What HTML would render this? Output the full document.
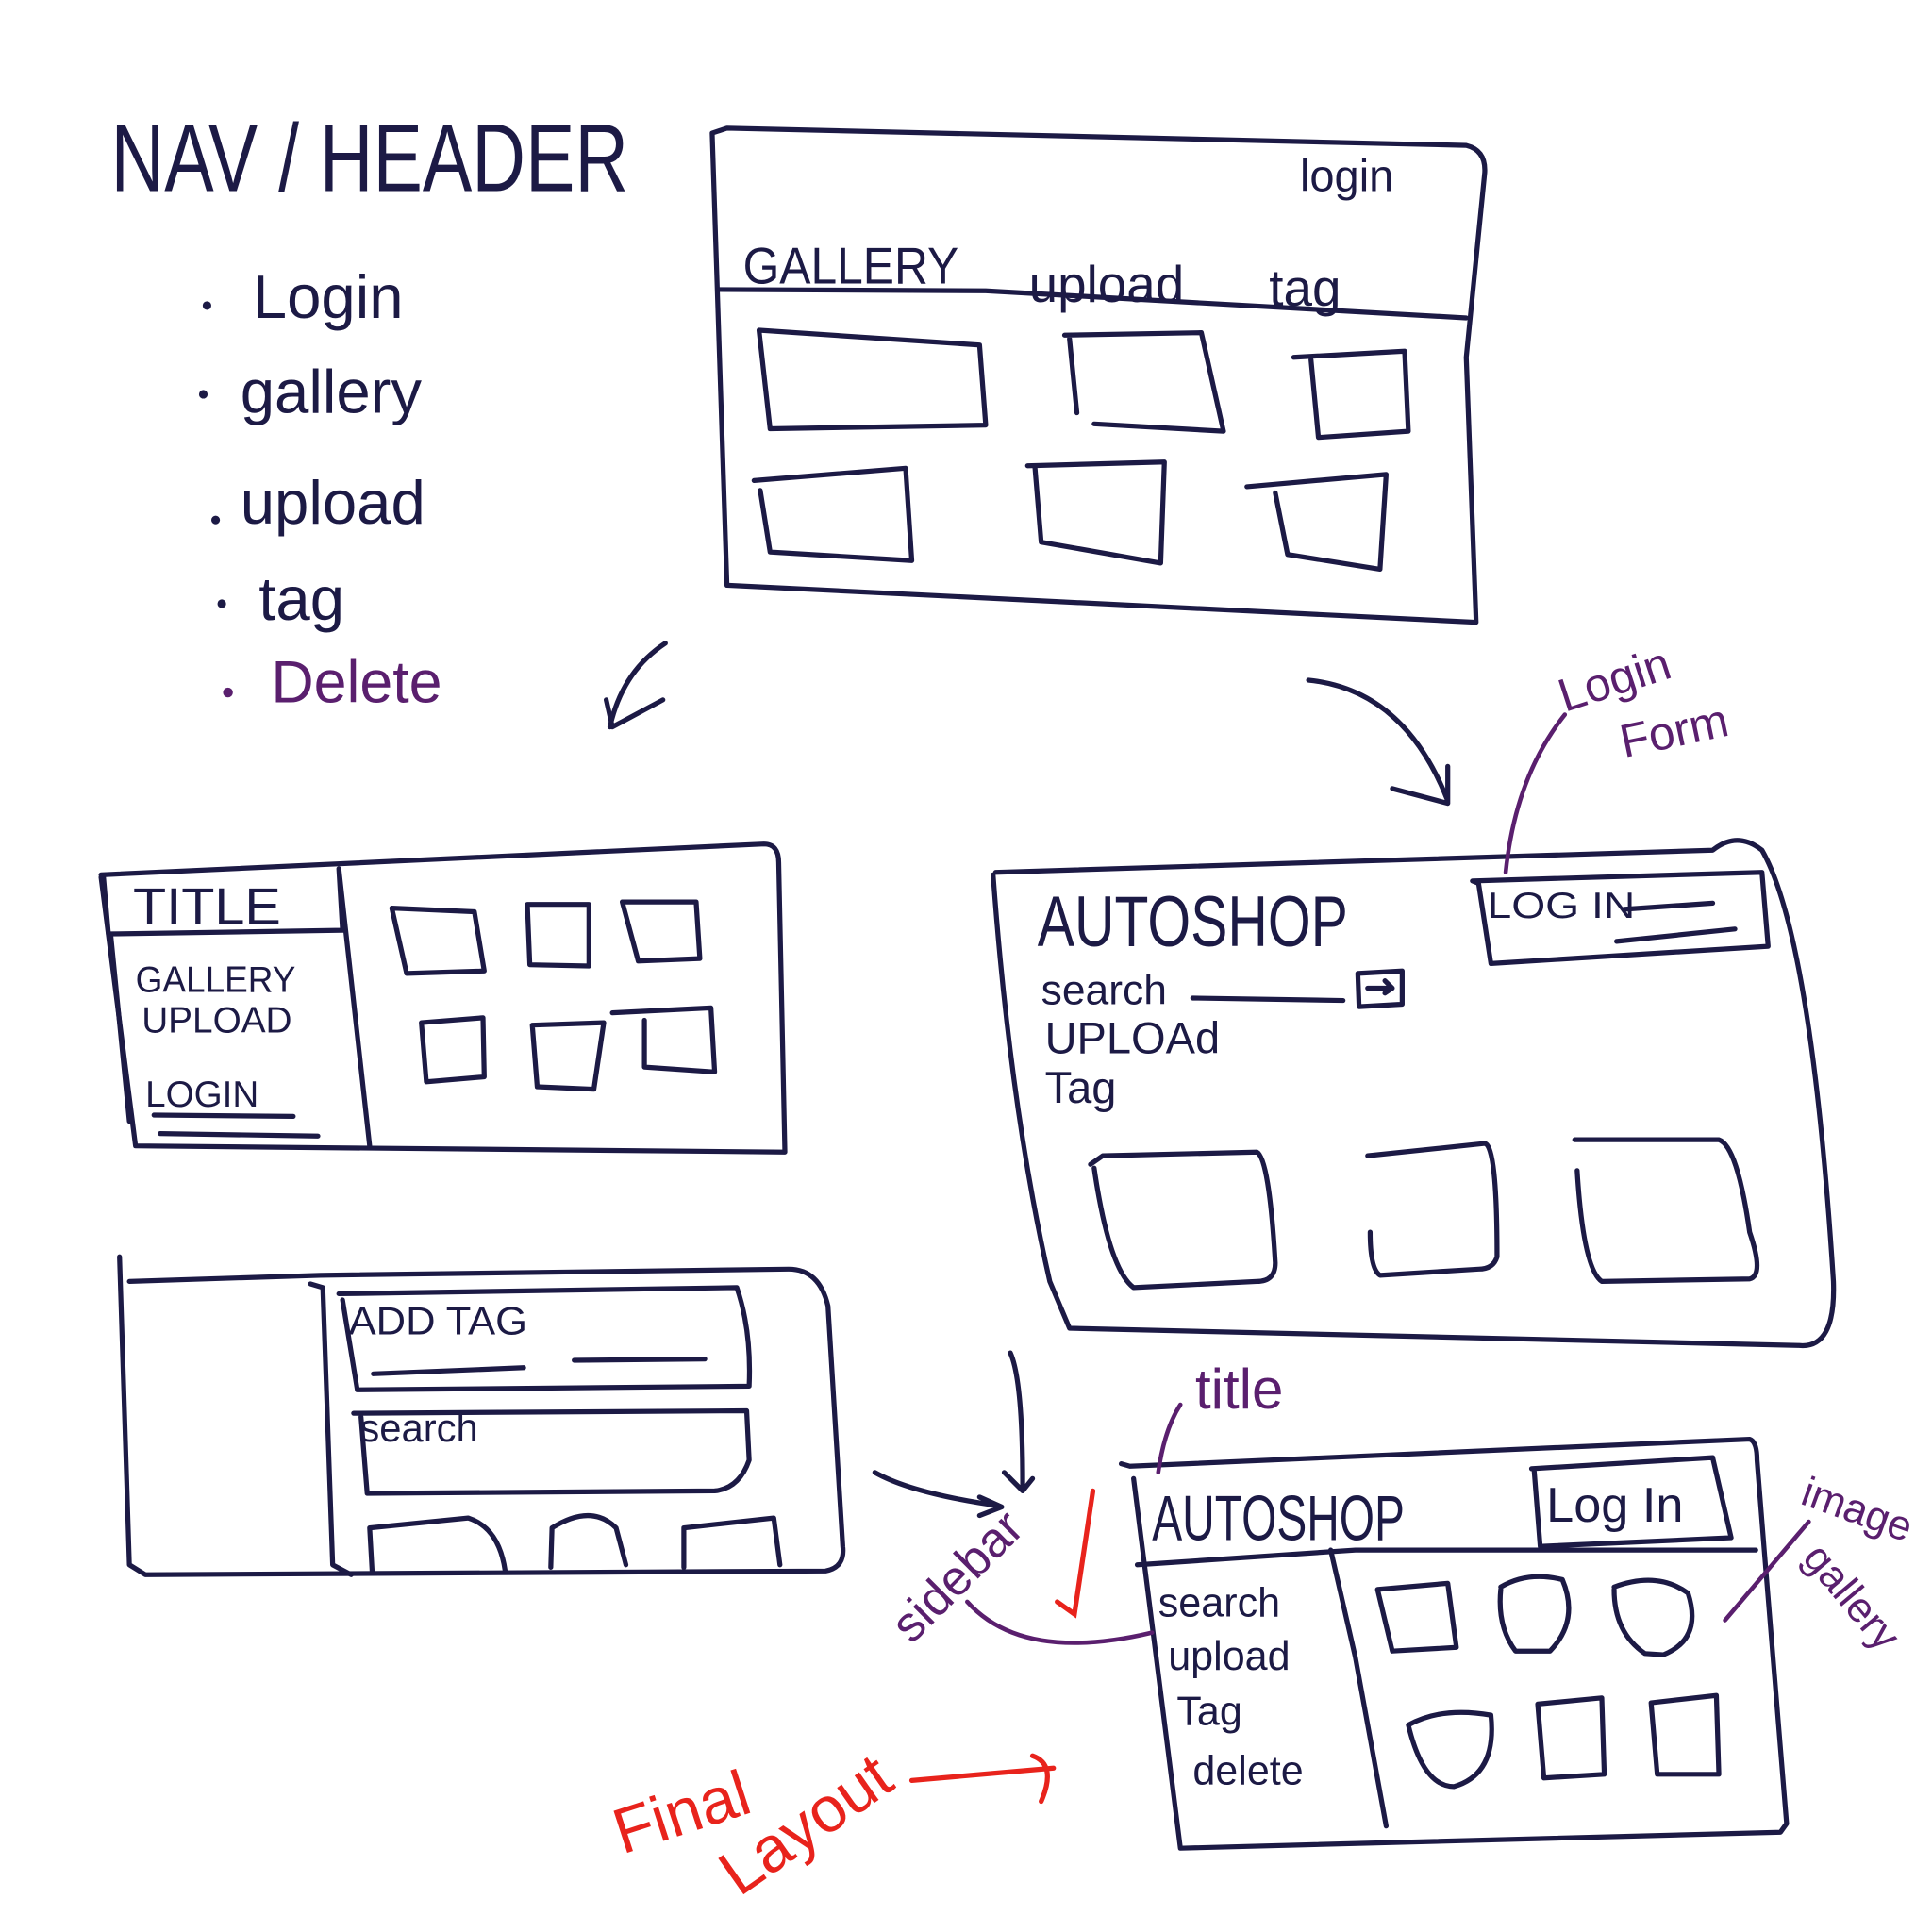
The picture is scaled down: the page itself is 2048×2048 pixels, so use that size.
<!DOCTYPE html>
<html><head><meta charset="utf-8"><style>
html,body{margin:0;padding:0;background:#fff;}
svg{display:block}
text{font-family:"Liberation Sans",sans-serif;}
</style></head><body>
<svg width="2048" height="2048" viewBox="0 0 1568 1568" xmlns="http://www.w3.org/2000/svg">
<rect width="1568" height="1568" fill="#fff"/>
<g fill="none" stroke="#1c1a45" stroke-width="4" stroke-linecap="round" stroke-linejoin="round">
<!-- top sketch -->
<path d="M578 108 L590 104 L1190 118 Q1206 122 1205 140 L1190 290 L1198 505 L590 475 Z"/>
<path d="M583 235 L800 236 L1190 258"/>
<path d="M616 268 L795 280 L800 345 L625 348 L616 268"/>
<path d="M864 272 L975 270 L993 350 L888 344 M868 275 L874 335"/>
<path d="M1050 290 L1140 285 L1143 350 L1070 355 L1064 292"/>
<path d="M612 390 L735 380 L740 455 L625 448 L617 398"/>
<path d="M834 378 L945 375 L942 457 L845 440 L840 380"/>
<path d="M1012 395 L1125 385 L1120 462 L1045 450 L1035 400"/>
<!-- left-middle sketch -->
<path d="M82 710 L620 685 Q632 685 632 700 L637 935 L110 930 L82 712"/>
<path d="M84 712 L88 758 L278 755 L275 705 L300 930"/>
<path d="M90 760 L105 910"/>
<path d="M125 905 L238 906 M130 920 L258 922"/>
<path d="M318 737 L385 740 L393 788 L330 790 Z"/>
<path d="M428 734 L478 734 L478 784 L430 783 Z"/>
<path d="M505 732 L565 732 L568 778 L518 780 Z"/>
<path d="M342 830 L392 826 L393 874 L346 878 Z"/>
<path d="M432 832 L490 830 L482 884 L436 882 Z"/>
<path d="M497 822 L577 818 L580 870 L523 866 L523 828"/>
<!-- bottom-left sketch -->
<path d="M97 1020 L105 1270 L118 1278 L670 1275 Q686 1272 684 1255 L672 1060 Q665 1030 640 1030 L260 1035 L105 1040"/>
<path d="M252 1042 L262 1045 L270 1270 L285 1278"/>
<path d="M275 1050 L598 1045 Q610 1080 608 1125 L290 1128 L278 1055"/>
<path d="M303 1115 L425 1110 M466 1104 L572 1103"/>
<path d="M287 1147 L606 1145 L608 1185 Q600 1208 580 1210 L298 1212 L293 1150"/>
<path d="M302 1275 L300 1240 L380 1232 Q405 1240 410 1275"/>
<path d="M447 1272 L448 1240 Q480 1220 500 1240 L508 1270"/>
<path d="M555 1272 L555 1240 L628 1232 L633 1270"/>
<!-- right-middle sketch -->
<path d="M808 708 L1390 690 Q1410 674 1430 690 Q1470 760 1488 1040 Q1490 1095 1460 1092 L868 1078 L852 1040 Q820 900 806 710"/>
<path d="M1195 715 L1200 717 L1210 782 L1435 768 L1430 708 L1195 715"/>
<path d="M1318 738 L1390 733 M1312 764 L1408 754"/>
<path d="M968 810 L1090 812"/>
<path d="M1102 790 L1138 788 L1138 815 L1103 817 Z M1110 802 L1130 802 M1124 796 L1130 802 L1124 806"/>
<path d="M885 945 L895 938 L1020 935 Q1030 940 1035 1025 Q1035 1040 1020 1040 L920 1045 Q900 1030 888 948"/>
<path d="M1110 938 L1205 928 Q1215 930 1215 1020 Q1212 1030 1200 1030 L1120 1035 Q1112 1030 1112 1000"/>
<path d="M1278 925 L1395 925 Q1410 930 1420 1000 Q1432 1035 1420 1038 L1300 1040 Q1285 1030 1280 950"/>
<!-- final layout -->
<path d="M910 1188 L917 1190 L1420 1168 Q1426 1170 1426 1185 L1432 1260 L1450 1480 L1445 1487 L958 1500 L920 1200"/>
<path d="M923 1270 L1100 1258 L1425 1258"/>
<path d="M1243 1192 L1390 1183 L1405 1248 L1250 1255 L1245 1192"/>
<path d="M1080 1258 L1100 1345 L1125 1482"/>
<path d="M1118 1290 L1175 1285 L1182 1337 L1130 1340 Z"/>
<path d="M1218 1288 Q1240 1275 1268 1282 Q1282 1315 1258 1340 L1230 1340 Q1215 1320 1218 1290"/>
<path d="M1310 1288 Q1345 1275 1370 1293 Q1382 1330 1350 1343 L1335 1342 Q1310 1325 1310 1290"/>
<path d="M1143 1400 Q1170 1385 1210 1392 Q1215 1440 1180 1450 Q1155 1450 1143 1400"/>
<path d="M1248 1383 L1300 1378 L1302 1440 L1253 1443 Z"/>
<path d="M1340 1382 L1393 1376 L1395 1440 L1345 1440 Z"/>
<!-- arrows -->
<path d="M540 522 Q505 545 495 590 M492 568 L497 590 L538 568"/>
<path d="M1062 552 Q1140 560 1175 650 M1130 640 L1175 652 L1175 622"/>
<path d="M820 1098 Q830 1120 830 1205 M815 1195 L830 1210 L838 1200"/>
<path d="M710 1195 Q740 1212 810 1222 M795 1215 L813 1223 L795 1230"/>
</g>
<g fill="#1c1a45">
<circle cx="168" cy="248" r="3.5"/><circle cx="165" cy="320" r="3.5"/><circle cx="175" cy="422" r="3.5"/><circle cx="180" cy="490" r="3.5"/>
</g>
<circle cx="185" cy="562" r="4" fill="#5a1f6e"/>
<g fill="#1c1a45">
<text x="90" y="155" font-size="78" textLength="420" lengthAdjust="spacingAndGlyphs">NAV / HEADER</text>
<text x="205" y="258" font-size="50">Login</text>
<text x="195" y="335" font-size="50">gallery</text>
<text x="195" y="425" font-size="50">upload</text>
<text x="210" y="503" font-size="50">tag</text>
<text x="1055" y="155" font-size="36">login</text>
<text x="603" y="230" font-size="42" textLength="175" lengthAdjust="spacingAndGlyphs">GALLERY</text>
<text x="835" y="245" font-size="42">upload</text>
<text x="1030" y="248" font-size="42">tag</text>
<text x="108" y="750" font-size="42" textLength="120" lengthAdjust="spacingAndGlyphs">TITLE</text>
<text x="110" y="805" font-size="30" textLength="130" lengthAdjust="spacingAndGlyphs">GALLERY</text>
<text x="115" y="838" font-size="30" textLength="122" lengthAdjust="spacingAndGlyphs">UPLOAD</text>
<text x="118" y="898" font-size="30" textLength="92" lengthAdjust="spacingAndGlyphs">LOGIN</text>
<text x="283" y="1083" font-size="32" textLength="145" lengthAdjust="spacingAndGlyphs">ADD TAG</text>
<text x="292" y="1170" font-size="32">search</text>
<text x="842" y="768" font-size="58" textLength="252" lengthAdjust="spacingAndGlyphs">AUTOSHOP</text>
<text x="1207" y="745" font-size="30" textLength="120" lengthAdjust="spacingAndGlyphs">LOG IN</text>
<text x="845" y="815" font-size="34">search</text>
<text x="848" y="855" font-size="36">UPLOAd</text>
<text x="848" y="895" font-size="36">Tag</text>
<text x="935" y="1250" font-size="52" textLength="205" lengthAdjust="spacingAndGlyphs">AUTOSHOP</text>
<text x="1255" y="1235" font-size="40">Log In</text>
<text x="940" y="1312" font-size="33">search</text>
<text x="948" y="1355" font-size="33">upload</text>
<text x="955" y="1400" font-size="33">Tag</text>
<text x="968" y="1448" font-size="33">delete</text>
</g>
<g fill="#5a1f6e">
<text x="220" y="570" font-size="48">Delete</text>
<text x="1270" y="578" font-size="38" transform="rotate(-18 1270 578)">Login</text>
<text x="1318" y="615" font-size="38" transform="rotate(-12 1318 615)">Form</text>
<text x="970" y="1143" font-size="46">title</text>
<text x="740" y="1335" font-size="40" transform="rotate(-45 740 1335)">sidebar</text>
<text x="1460" y="1220" font-size="34" transform="rotate(20 1460 1220)">image</text>
<text x="1462" y="1265" font-size="34" transform="rotate(50 1462 1265)">gallery</text>
</g>
<g fill="none" stroke="#5a1f6e" stroke-width="3.5" stroke-linecap="round">
<path d="M1270 580 Q1230 630 1222 708"/>
<path d="M958 1140 Q945 1160 940 1195"/>
<path d="M785 1300 Q830 1350 935 1325"/>
<path d="M1468 1235 L1400 1315"/>
</g>
<g fill="#e8231c">
<text x="505" y="1505" font-size="52" transform="rotate(-18 505 1505)">Final</text>
<text x="600" y="1540" font-size="52" transform="rotate(-35 600 1540)">Layout</text>
</g>
<g fill="none" stroke="#e8231c" stroke-width="4" stroke-linecap="round">
<path d="M740 1445 Q800 1440 855 1435 M838 1425 Q858 1432 845 1462"/>
<path d="M887 1210 L872 1310 L858 1300"/>
</g>
</svg>
</body></html>
